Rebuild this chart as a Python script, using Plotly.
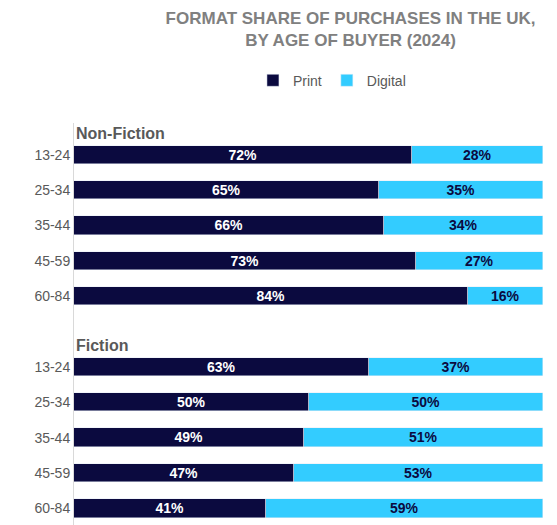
import plotly.graph_objects as go

ages = ["13-24", "25-34", "35-44", "45-59", "60-84"]
nf_print = [72, 65, 66, 73, 84]
nf_digital = [28, 35, 34, 27, 16]
f_print = [63, 50, 49, 47, 41]
f_digital = [37, 50, 51, 53, 59]

pos = list(range(5)) + list(range(6, 11))
prints = nf_print + f_print
digitals = nf_digital + f_digital
labels = ages + ages

NAVY = "#0b0a3f"
CYAN = "#33ccff"
FONT = "Liberation Sans, Arial, sans-serif"

fig = go.Figure()
fig.add_trace(go.Bar(y=pos, x=prints, orientation="h", name="Print", marker_color=NAVY,
                     width=0.52, text=[f"{v}%" for v in prints], textposition="inside",
                     insidetextanchor="middle", constraintext="none",
                     textfont=dict(color="white", size=14, family=FONT, weight="bold")))
fig.add_trace(go.Bar(y=pos, x=digitals, orientation="h", name="Digital", marker_color=CYAN,
                     width=0.52, text=[f"{v}%" for v in digitals], textposition="inside",
                     insidetextanchor="middle", constraintext="none",
                     textfont=dict(color=NAVY, size=14, family=FONT, weight="bold")))

fig.update_layout(
    barmode="stack", width=557, height=525,
    paper_bgcolor="white", plot_bgcolor="white",
    margin=dict(l=66, r=22, t=115, b=7),
    font=dict(family=FONT, color="#595959"),
    uniformtext=dict(mode=False),
    title=dict(text="FORMAT SHARE OF PURCHASES IN THE UK,<br>BY AGE OF BUYER (2024)",
               x=0.615, xanchor="center", y=0.97, yanchor="top",
               font=dict(size=17, color="#808080", family=FONT, weight="bold")),
    legend=dict(orientation="h", x=0.55, xanchor="center", y=1.105, yanchor="middle",
                font=dict(size=14, color="#595959"), traceorder="normal",
                itemwidth=30),
    xaxis=dict(range=[0, 100], visible=False),
    yaxis=dict(range=[10.5, -0.9], tickvals=pos, ticktext=labels, showgrid=False,
               showline=True, linecolor="#d9d9d9", ticks="", zeroline=False,
               automargin=False, tickfont=dict(size=14, color="#595959")),
    bargap=0,
    annotations=[
        dict(text="<b>Non-Fiction</b>", x=0, xref="x", y=-0.6, yref="y", xanchor="left",
             showarrow=False, font=dict(size=16, color="#595959")),
        dict(text="<b>Fiction</b>", x=0, xref="x", y=5.4, yref="y", xanchor="left",
             showarrow=False, font=dict(size=16, color="#595959")),
    ],
)
fig.write_html("out.html")
